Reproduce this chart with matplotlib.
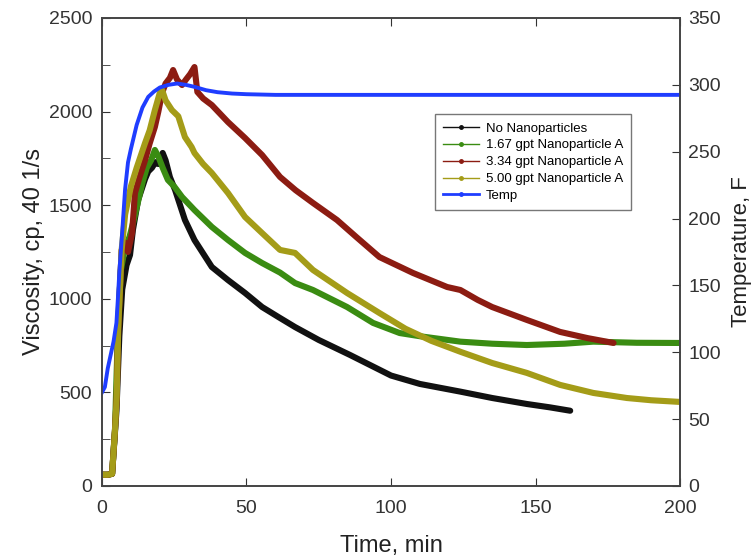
import matplotlib
matplotlib.use('Agg')
import matplotlib.pyplot as plt
from matplotlib.lines import Line2D
from matplotlib.ticker import MultipleLocator

plt.rcParams['font.family'] = ['Liberation Sans', 'DejaVu Sans']

# viscosity series (cp)
t_none = [0, 2, 3.5, 5, 6, 7, 8.5, 9.7, 10.7, 12.5, 14.9, 16, 17.3, 18.5, 19.5, 21, 22, 23.5, 25.3,
          28.7, 32, 38, 43.6, 49.5, 55.4, 61, 66.8, 75, 85.8, 100, 110, 124, 135, 147, 155, 162]
v_none = [60, 60, 65, 400, 800, 1050, 1180, 1234, 1368, 1528, 1640, 1680, 1700, 1730, 1720, 1779, 1740,
          1650, 1581, 1421, 1314, 1170, 1100, 1031, 956, 903, 849, 780, 700, 590, 545, 504, 470, 438, 420, 402]

t_a167 = [0, 2, 3.5, 4.5, 5.5, 6.5, 8, 9.5, 11, 12.5, 14, 15.5, 17, 18.3, 19.5, 21, 22.8, 25, 27.7, 32,
          38, 43.6, 49.5, 55.4, 61.6, 66.8, 73, 84.8, 93.8, 103, 110, 124, 135, 147, 160, 170, 185, 200]
v_a167 = [60, 60, 65, 300, 830, 1150, 1277, 1330, 1420, 1520, 1620, 1700, 1740, 1795, 1760, 1700, 1635,
          1600, 1544, 1474, 1384, 1314, 1245, 1191, 1140, 1084, 1047, 956, 871, 817, 800, 771, 760, 753,
          760, 771, 765, 764]

t_a334 = [0, 2, 3.5, 4.5, 5.1, 5.6, 6.8, 8, 9, 10.4, 11.4, 13, 14.9, 16.5, 18.3, 19.5, 20.8, 22, 23.5,
          24.6, 26, 27.7, 29, 30.5, 32, 33, 35, 38, 43.6, 49.5, 55.4, 61.6, 67, 73, 81.3, 88, 96, 107.6,
          119.4, 124, 130, 135, 147, 158.5, 168, 177]
v_a334 = [60, 60, 65, 300, 475, 833, 1260, 1300, 1250, 1350, 1565, 1650, 1741, 1830, 1918, 2000, 2100,
          2150, 2180, 2222, 2170, 2142, 2170, 2200, 2238, 2105, 2070, 2035, 1944, 1859, 1768, 1651, 1580,
          1512, 1421, 1330, 1223, 1138, 1063, 1047, 994, 956, 887, 823, 790, 764]

t_a500 = [0, 2, 3.5, 4.5, 5.1, 5.6, 6.8, 8, 10, 12, 14.9, 16.5, 18.3, 20, 20.8, 22, 24.2, 26.4, 28.7,
          31, 32, 35, 38, 43.6, 49.5, 55.4, 61.6, 66.8, 73, 84.8, 96, 105, 114, 124, 135, 147, 158.5,
          170, 181.6, 190, 200]
v_a500 = [60, 60, 65, 300, 475, 833, 1260, 1450, 1600, 1700, 1832, 1900, 2008, 2100, 2115, 2060, 2008,
          1975, 1864, 1811, 1779, 1720, 1672, 1565, 1437, 1351, 1261, 1245, 1154, 1031, 924, 840, 775,
          717, 657, 604, 540, 497, 470, 458, 449]

# temperature (F)
t_temp = [0, 1, 2, 3, 4, 5, 5.5, 6, 7, 8, 9, 10, 12, 14, 16, 18, 20, 23, 26, 29, 32, 36, 40, 45, 50,
          60, 100, 200]
v_temp = [70, 74, 88, 98, 108, 122, 140, 160, 190, 222, 242, 252, 270, 283, 291, 295, 298, 300, 301,
          300, 298.5, 296, 294.5, 293.5, 293, 292.5, 292.5, 292.5]

labels = ['No Nanoparticles', '1.67 gpt Nanoparticle A', '3.34 gpt Nanoparticle A',
          '5.00 gpt Nanoparticle A', 'Temp']
colors = ['#111111', '#3a8c12', '#8c1c12', '#a49c18', '#1f3dff']

fig = plt.figure(figsize=(7.51, 5.57), dpi=100)
ax = fig.add_axes([0.1358, 0.1275, 0.7697, 0.8402])
ax2 = ax.twinx()

series = [(t_none, v_none), (t_a167, v_a167), (t_a334, v_a334), (t_a500, v_a500)]
for (t, v), c in zip(series, colors[:4]):
    ax.plot(t, v, color=c, lw=4.4, solid_joinstyle='round', solid_capstyle='round')
ax2.plot(t_temp, v_temp, color=colors[4], lw=2.8)

ax.set_xlim(0, 200)
ax.set_ylim(0, 2500)
ax2.set_ylim(0, 350)
ax.xaxis.set_major_locator(MultipleLocator(50))
ax.yaxis.set_major_locator(MultipleLocator(500))
ax.yaxis.set_minor_locator(MultipleLocator(250))
ax2.yaxis.set_major_locator(MultipleLocator(50))

ax.tick_params(axis='both', which='both', direction='in', labelsize=14, colors='#333333')
ax.tick_params(axis='x', top=True, length=6, pad=10)
ax.tick_params(axis='y', which='both', length=6, pad=7)
ax2.tick_params(axis='y', direction='in', length=6, labelsize=14, colors='#333333', pad=6)
for a in (ax, ax2):
    for s in a.spines.values():
        s.set_color('#444444')
        s.set_linewidth(1.2)

ax.set_xlabel('Time, min', fontsize=17, color='#222222', labelpad=13)
ax.set_ylabel('Viscosity, cp, 40 1/s', fontsize=17, color='#222222', labelpad=3)
ax2.set_ylabel('Temperature, F', fontsize=16, color='#222222', labelpad=7)

handles = [Line2D([], [], color=c, lw=1.0, marker='o', ms=2.5) for c in colors]
handles[4].set_linewidth(2.0)
leg = ax2.legend(handles, labels, loc='upper left', bbox_to_anchor=(0.564, 0.808), fontsize=9.5,
                 frameon=True, fancybox=False, handlelength=2.8, labelspacing=0.35,
                 borderpad=0.6, handletextpad=0.5)
leg.get_frame().set_edgecolor('#555555')
leg.get_frame().set_linewidth(1.0)

fig.savefig('out.png', dpi=100)
